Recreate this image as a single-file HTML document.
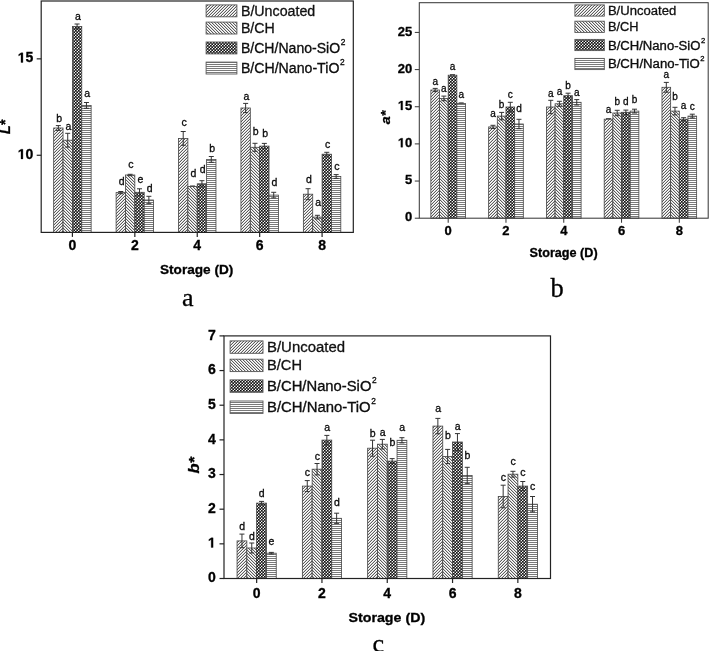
<!DOCTYPE html><html><head><meta charset="utf-8"><style>html,body{margin:0;padding:0;background:#fff;}svg{display:block;will-change:transform;}text{font-family:"Liberation Sans",sans-serif;stroke:currentColor;stroke-width:0.3px;}</style></head><body>
<svg width="709" height="651" viewBox="0 0 709 651">
<defs>
<pattern id="pf" patternUnits="userSpaceOnUse" x="0" y="0" width="3" height="3"><rect width="3" height="3" fill="#fff"/><g shape-rendering="crispEdges"><rect x="2" y="0" width="1" height="1" fill="#5c5c5c"/><rect x="1" y="1" width="1" height="1" fill="#5c5c5c"/><rect x="0" y="2" width="1" height="1" fill="#5c5c5c"/><rect x="1" y="0" width="1" height="1" fill="#d2d2d2"/><rect x="0" y="1" width="1" height="1" fill="#d2d2d2"/><rect x="2" y="2" width="1" height="1" fill="#d2d2d2"/></g></pattern>
<pattern id="pb" patternUnits="userSpaceOnUse" x="0" y="0" width="3" height="3"><rect width="3" height="3" fill="#fff"/><g shape-rendering="crispEdges"><rect x="0" y="0" width="1" height="1" fill="#5c5c5c"/><rect x="1" y="1" width="1" height="1" fill="#5c5c5c"/><rect x="2" y="2" width="1" height="1" fill="#5c5c5c"/><rect x="1" y="0" width="1" height="1" fill="#d2d2d2"/><rect x="2" y="1" width="1" height="1" fill="#d2d2d2"/><rect x="0" y="2" width="1" height="1" fill="#d2d2d2"/></g></pattern>
<pattern id="px" patternUnits="userSpaceOnUse" x="0" y="0" width="3" height="3"><rect width="3" height="3" fill="#fff"/><g shape-rendering="crispEdges"><rect x="0" y="0" width="1" height="1" fill="#111111"/><rect x="1" y="0" width="1" height="1" fill="#5a5a5a"/><rect x="2" y="0" width="1" height="1" fill="#f0f0f0"/><rect x="0" y="1" width="1" height="1" fill="#5a5a5a"/><rect x="1" y="1" width="1" height="1" fill="#5a5a5a"/><rect x="2" y="1" width="1" height="1" fill="#5a5a5a"/><rect x="0" y="2" width="1" height="1" fill="#f0f0f0"/><rect x="1" y="2" width="1" height="1" fill="#5a5a5a"/><rect x="2" y="2" width="1" height="1" fill="#111111"/></g></pattern>
<pattern id="ph" patternUnits="userSpaceOnUse" x="0" y="0" width="4" height="2"><rect width="4" height="2" fill="#fff"/><rect x="0" y="0" width="4" height="1" fill="#7a7a7a" shape-rendering="crispEdges"/></pattern>
<filter id="soft" x="-2%" y="-2%" width="104%" height="104%"><feGaussianBlur stdDeviation="0.6"/></filter>
</defs>
<rect width="709" height="651" fill="#fff"/>
<g><rect x="53.68" y="128" width="9.36" height="104.4" fill="url(#pf)" stroke="#444" stroke-width="0.8"/><rect x="63.05" y="140.2" width="9.36" height="92.2" fill="url(#pb)" stroke="#444" stroke-width="0.8"/><rect x="72.41" y="26.5" width="9.36" height="205.9" fill="url(#px)" stroke="#444" stroke-width="0.8"/><rect x="81.77" y="105.4" width="9.36" height="127" fill="url(#ph)" stroke="#444" stroke-width="0.8"/><rect x="116.1" y="192.6" width="9.36" height="39.8" fill="url(#pf)" stroke="#444" stroke-width="0.8"/><rect x="125.47" y="175" width="9.36" height="57.4" fill="url(#pb)" stroke="#444" stroke-width="0.8"/><rect x="134.83" y="192.3" width="9.36" height="40.1" fill="url(#px)" stroke="#444" stroke-width="0.8"/><rect x="144.19" y="200" width="9.36" height="32.4" fill="url(#ph)" stroke="#444" stroke-width="0.8"/><rect x="178.52" y="138.4" width="9.36" height="94" fill="url(#pf)" stroke="#444" stroke-width="0.8"/><rect x="187.89" y="186.5" width="9.36" height="45.9" fill="url(#pb)" stroke="#444" stroke-width="0.8"/><rect x="197.25" y="183.8" width="9.36" height="48.6" fill="url(#px)" stroke="#444" stroke-width="0.8"/><rect x="206.61" y="159.4" width="9.36" height="73" fill="url(#ph)" stroke="#444" stroke-width="0.8"/><rect x="240.94" y="108" width="9.36" height="124.4" fill="url(#pf)" stroke="#444" stroke-width="0.8"/><rect x="250.31" y="147.3" width="9.36" height="85.1" fill="url(#pb)" stroke="#444" stroke-width="0.8"/><rect x="259.67" y="146.1" width="9.36" height="86.3" fill="url(#px)" stroke="#444" stroke-width="0.8"/><rect x="269.03" y="195.1" width="9.36" height="37.3" fill="url(#ph)" stroke="#444" stroke-width="0.8"/><rect x="303.36" y="194.2" width="9.36" height="38.2" fill="url(#pf)" stroke="#444" stroke-width="0.8"/><rect x="312.73" y="217.1" width="9.36" height="15.3" fill="url(#pb)" stroke="#444" stroke-width="0.8"/><rect x="322.09" y="154.2" width="9.36" height="78.2" fill="url(#px)" stroke="#444" stroke-width="0.8"/><rect x="331.45" y="176.5" width="9.36" height="55.9" fill="url(#ph)" stroke="#444" stroke-width="0.8"/></g>
<path d="M58.37 125.6V130.4M55.87 125.6H60.87M55.87 130.4H60.87M67.73 133.3V147.1M65.23 133.3H70.23M65.23 147.1H70.23M77.09 24V29M74.59 24H79.59M74.59 29H79.59M86.45 102.5V108.3M83.95 102.5H88.95M83.95 108.3H88.95M120.79 191.5V193.7M118.29 191.5H123.29M118.29 193.7H123.29M130.15 174.3V175.7M127.65 174.3H132.65M127.65 175.7H132.65M139.51 188.8V195.8M137.01 188.8H142.01M137.01 195.8H142.01M148.87 196.3V203.7M146.37 196.3H151.37M146.37 203.7H151.37M183.21 131.5V145.3M180.71 131.5H185.71M180.71 145.3H185.71M190.07 186H195.07M201.93 180.7V186.9M199.43 180.7H204.43M199.43 186.9H204.43M211.29 156.5V162.3M208.79 156.5H213.79M208.79 162.3H213.79M245.63 103.4V112.6M243.13 103.4H248.13M243.13 112.6H248.13M254.99 143.3V151.3M252.49 143.3H257.49M252.49 151.3H257.49M264.35 143.4V148.8M261.85 143.4H266.85M261.85 148.8H266.85M273.71 192.3V197.9M271.21 192.3H276.21M271.21 197.9H276.21M308.05 188.7V199.7M305.55 188.7H310.55M305.55 199.7H310.55M317.41 215.3V218.9M314.91 215.3H319.91M314.91 218.9H319.91M326.77 152.3V156.1M324.27 152.3H329.27M324.27 156.1H329.27M336.13 174.6V178.4M333.63 174.6H338.63M333.63 178.4H338.63" stroke="#333" stroke-width="1" fill="none"/>
<g font-size="10.5" text-anchor="middle" fill="#111"><text x="59.17" y="121.9">b</text><text x="68.53" y="129.7">a</text><text x="77.89" y="19.6">a</text><text x="87.25" y="96.9">a</text><text x="121.59" y="184.6">d</text><text x="130.95" y="168.4">c</text><text x="140.31" y="183">e</text><text x="149.67" y="192.3">d</text><text x="184.01" y="126.3">c</text><text x="193.37" y="176.5">d</text><text x="202.73" y="173.4">d</text><text x="212.09" y="151.5">b</text><text x="246.43" y="100">a</text><text x="255.79" y="135.4">b</text><text x="265.15" y="137.3">b</text><text x="274.51" y="185.7">d</text><text x="308.85" y="183.4">d</text><text x="318.21" y="205.7">a</text><text x="327.57" y="147.7">c</text><text x="336.93" y="169.6">c</text></g>
<rect x="41.2" y="1" width="312.1" height="231.4" fill="none" stroke="#222" stroke-width="1.2"/>
<path d="M36.7 155.27H41.2" stroke="#222" stroke-width="1.2"/>
<path transform="translate(17.73 158.91) scale(0.00684 -0.00684)" d="M478 0L759 0L759 1409L493 1409L140 1180L140 959L478 1170Z" fill="#000" stroke="#000" stroke-width="43.9"/>
<text x="33.3" y="158.91" font-size="14" font-weight="bold" text-anchor="end" fill="#000">0</text>
<path d="M36.7 58.85H41.2" stroke="#222" stroke-width="1.2"/>
<path transform="translate(17.73 62.49) scale(0.00684 -0.00684)" d="M478 0L759 0L759 1409L493 1409L140 1180L140 959L478 1170Z" fill="#000" stroke="#000" stroke-width="43.9"/>
<text x="33.3" y="62.49" font-size="14" font-weight="bold" text-anchor="end" fill="#000">5</text>
<path d="M72.41 232.4V236.9" stroke="#222" stroke-width="1.2"/>
<text x="72.41" y="250" font-size="14" font-weight="bold" text-anchor="middle" fill="#000">0</text>
<path d="M134.83 232.4V236.9" stroke="#222" stroke-width="1.2"/>
<text x="134.83" y="250" font-size="14" font-weight="bold" text-anchor="middle" fill="#000">2</text>
<path d="M197.25 232.4V236.9" stroke="#222" stroke-width="1.2"/>
<text x="197.25" y="250" font-size="14" font-weight="bold" text-anchor="middle" fill="#000">4</text>
<path d="M259.67 232.4V236.9" stroke="#222" stroke-width="1.2"/>
<text x="259.67" y="250" font-size="14" font-weight="bold" text-anchor="middle" fill="#000">6</text>
<path d="M322.09 232.4V236.9" stroke="#222" stroke-width="1.2"/>
<text x="322.09" y="250" font-size="14" font-weight="bold" text-anchor="middle" fill="#000">8</text>
<text x="160" y="273.6" font-size="13" font-weight="bold" textLength="73.3" lengthAdjust="spacingAndGlyphs" fill="#000">Storage (D)</text>
<text transform="translate(10 134) rotate(-90)"  font-size="14" font-weight="bold" font-style="italic" fill="#000">L*</text>
<rect x="206.1" y="4.9" width="30.8" height="11.9" fill="url(#pf)" stroke="#555" stroke-width="0.9"/>
<text x="240.9" y="15.8" font-size="14" textLength="74.4" lengthAdjust="spacingAndGlyphs" fill="#111" style="color:#111">B/Uncoated</text>
<rect x="206.1" y="22.1" width="30.8" height="11.9" fill="url(#pb)" stroke="#555" stroke-width="0.9"/>
<text x="240.9" y="32.8" font-size="14" textLength="33.9" lengthAdjust="spacingAndGlyphs" fill="#111" style="color:#111">B/CH</text>
<rect x="206.1" y="42" width="30.8" height="11.9" fill="url(#px)" stroke="#555" stroke-width="0.9"/>
<text x="240.9" y="53" font-size="14" fill="#111"><tspan textLength="99.3" lengthAdjust="spacingAndGlyphs">B/CH/Nano-SiO</tspan><tspan font-size="8.4" dy="-7.98" dx="0.6">2</tspan></text>
<rect x="206.1" y="62.1" width="30.8" height="11.9" fill="url(#ph)" stroke="#555" stroke-width="0.9"/>
<text x="240.9" y="72.9" font-size="14" fill="#111"><tspan textLength="98.5" lengthAdjust="spacingAndGlyphs">B/CH/Nano-TiO</tspan><tspan font-size="8.4" dy="-7.98" dx="0.6">2</tspan></text>
<g><rect x="430.86" y="90" width="8.67" height="128.2" fill="url(#pf)" stroke="#444" stroke-width="0.8"/><rect x="439.52" y="98.4" width="8.67" height="119.8" fill="url(#pb)" stroke="#444" stroke-width="0.8"/><rect x="448.19" y="75.2" width="8.67" height="143" fill="url(#px)" stroke="#444" stroke-width="0.8"/><rect x="456.86" y="103.4" width="8.67" height="114.8" fill="url(#ph)" stroke="#444" stroke-width="0.8"/><rect x="488.64" y="126.9" width="8.67" height="91.3" fill="url(#pf)" stroke="#444" stroke-width="0.8"/><rect x="497.3" y="116.1" width="8.67" height="102.1" fill="url(#pb)" stroke="#444" stroke-width="0.8"/><rect x="505.97" y="107" width="8.67" height="111.2" fill="url(#px)" stroke="#444" stroke-width="0.8"/><rect x="514.64" y="124" width="8.67" height="94.2" fill="url(#ph)" stroke="#444" stroke-width="0.8"/><rect x="546.42" y="107" width="8.67" height="111.2" fill="url(#pf)" stroke="#444" stroke-width="0.8"/><rect x="555.08" y="103.8" width="8.67" height="114.4" fill="url(#pb)" stroke="#444" stroke-width="0.8"/><rect x="563.75" y="95.7" width="8.67" height="122.5" fill="url(#px)" stroke="#444" stroke-width="0.8"/><rect x="572.42" y="102.3" width="8.67" height="115.9" fill="url(#ph)" stroke="#444" stroke-width="0.8"/><rect x="604.2" y="119.2" width="8.67" height="99" fill="url(#pf)" stroke="#444" stroke-width="0.8"/><rect x="612.86" y="113" width="8.67" height="105.2" fill="url(#pb)" stroke="#444" stroke-width="0.8"/><rect x="621.53" y="112.3" width="8.67" height="105.9" fill="url(#px)" stroke="#444" stroke-width="0.8"/><rect x="630.2" y="111.1" width="8.67" height="107.1" fill="url(#ph)" stroke="#444" stroke-width="0.8"/><rect x="661.98" y="87.3" width="8.67" height="130.9" fill="url(#pf)" stroke="#444" stroke-width="0.8"/><rect x="670.64" y="111.1" width="8.67" height="107.1" fill="url(#pb)" stroke="#444" stroke-width="0.8"/><rect x="679.31" y="119.2" width="8.67" height="99" fill="url(#px)" stroke="#444" stroke-width="0.8"/><rect x="687.98" y="116.1" width="8.67" height="102.1" fill="url(#ph)" stroke="#444" stroke-width="0.8"/></g>
<path d="M435.19 88.4V91.6M432.69 88.4H437.69M432.69 91.6H437.69M443.86 96.1V100.7M441.36 96.1H446.36M441.36 100.7H446.36M450.02 74.7H455.02M458.69 102.9H463.69M492.97 125.3V128.5M490.47 125.3H495.47M490.47 128.5H495.47M501.64 112.4V119.8M499.14 112.4H504.14M499.14 119.8H504.14M510.3 102.3V111.7M507.8 102.3H512.8M507.8 111.7H512.8M518.97 119.3V128.7M516.47 119.3H521.47M516.47 128.7H521.47M550.75 100.3V113.7M548.25 100.3H553.25M548.25 113.7H553.25M559.42 101.3V106.3M556.92 101.3H561.92M556.92 106.3H561.92M568.08 93.2V98.2M565.58 93.2H570.58M565.58 98.2H570.58M576.75 99.6V105M574.25 99.6H579.25M574.25 105H579.25M606.03 118.7H611.03M617.2 110.3V115.7M614.7 110.3H619.7M614.7 115.7H619.7M625.86 110.1V114.5M623.36 110.1H628.36M623.36 114.5H628.36M634.53 109.2V113M632.03 109.2H637.03M632.03 113H637.03M666.31 82.4V92.2M663.81 82.4H668.81M663.81 92.2H668.81M674.98 107.3V114.9M672.48 107.3H677.48M672.48 114.9H677.48M683.64 117.7V120.7M681.14 117.7H686.14M681.14 120.7H686.14M692.31 114.2V118M689.81 114.2H694.81M689.81 118H694.81" stroke="#333" stroke-width="1" fill="none"/>
<g font-size="10" text-anchor="middle" fill="#111"><text x="435.19" y="84.6">a</text><text x="443.86" y="91.5">a</text><text x="452.52" y="69.6">a</text><text x="461.19" y="97.6">a</text><text x="492.97" y="117.3">a</text><text x="501.64" y="107.5">b</text><text x="510.3" y="97.7">c</text><text x="518.97" y="111.9">d</text><text x="550.75" y="96.5">a</text><text x="559.42" y="95.3">a</text><text x="568.08" y="89.2">b</text><text x="576.75" y="95.7">a</text><text x="608.53" y="112.6">a</text><text x="617.2" y="105.3">b</text><text x="625.86" y="105.2">d</text><text x="634.53" y="102.7">b</text><text x="666.31" y="78">a</text><text x="674.98" y="99.6">b</text><text x="683.64" y="109.2">a</text><text x="692.31" y="109.6">c</text></g>
<rect x="419.3" y="2.7" width="288.9" height="215.5" fill="none" stroke="#3c3c3c" stroke-width="1.05"/>
<path d="M414.8 218.2H419.3" stroke="#3c3c3c" stroke-width="1.05"/>
<text x="412.3" y="221.48" font-size="13" font-weight="bold" text-anchor="end" fill="#000">0</text>
<path d="M414.8 181.04H419.3" stroke="#3c3c3c" stroke-width="1.05"/>
<text x="412.3" y="184.32" font-size="13" font-weight="bold" text-anchor="end" fill="#000">5</text>
<path d="M414.8 143.89H419.3" stroke="#3c3c3c" stroke-width="1.05"/>
<path transform="translate(397.84 147.17) scale(0.00635 -0.00635)" d="M478 0L759 0L759 1409L493 1409L140 1180L140 959L478 1170Z" fill="#000" stroke="#000" stroke-width="47.3"/>
<text x="412.3" y="147.17" font-size="13" font-weight="bold" text-anchor="end" fill="#000">0</text>
<path d="M414.8 106.73H419.3" stroke="#3c3c3c" stroke-width="1.05"/>
<path transform="translate(397.84 110.01) scale(0.00635 -0.00635)" d="M478 0L759 0L759 1409L493 1409L140 1180L140 959L478 1170Z" fill="#000" stroke="#000" stroke-width="47.3"/>
<text x="412.3" y="110.01" font-size="13" font-weight="bold" text-anchor="end" fill="#000">5</text>
<path d="M414.8 69.58H419.3" stroke="#3c3c3c" stroke-width="1.05"/>
<text x="412.3" y="72.86" font-size="13" font-weight="bold" text-anchor="end" fill="#000">20</text>
<path d="M414.8 32.42H419.3" stroke="#3c3c3c" stroke-width="1.05"/>
<text x="412.3" y="35.7" font-size="13" font-weight="bold" text-anchor="end" fill="#000">25</text>
<path d="M448.19 218.2V222.7" stroke="#3c3c3c" stroke-width="1.05"/>
<text x="448.19" y="234.5" font-size="13" font-weight="bold" text-anchor="middle" fill="#000">0</text>
<path d="M505.97 218.2V222.7" stroke="#3c3c3c" stroke-width="1.05"/>
<text x="505.97" y="234.5" font-size="13" font-weight="bold" text-anchor="middle" fill="#000">2</text>
<path d="M563.75 218.2V222.7" stroke="#3c3c3c" stroke-width="1.05"/>
<text x="563.75" y="234.5" font-size="13" font-weight="bold" text-anchor="middle" fill="#000">4</text>
<path d="M621.53 218.2V222.7" stroke="#3c3c3c" stroke-width="1.05"/>
<text x="621.53" y="234.5" font-size="13" font-weight="bold" text-anchor="middle" fill="#000">6</text>
<path d="M679.31 218.2V222.7" stroke="#3c3c3c" stroke-width="1.05"/>
<text x="679.31" y="234.5" font-size="13" font-weight="bold" text-anchor="middle" fill="#000">8</text>
<text x="529.6" y="256.6" font-size="12" font-weight="bold" textLength="68" lengthAdjust="spacingAndGlyphs" fill="#000">Storage (D)</text>
<text transform="translate(390.2 124.2) rotate(-90)" textLength="13.5" lengthAdjust="spacingAndGlyphs" font-size="13" font-weight="bold" font-style="italic" fill="#000">a*</text>
<rect x="574.9" y="4.9" width="29.4" height="11.2" fill="url(#pf)" stroke="#555" stroke-width="0.9"/>
<text x="607.9" y="14.9" font-size="12" textLength="68.3" lengthAdjust="spacingAndGlyphs" fill="#111" style="color:#111">B/Uncoated</text>
<rect x="574.9" y="21.2" width="29.4" height="11.2" fill="url(#pb)" stroke="#555" stroke-width="0.9"/>
<text x="607.9" y="31" font-size="12" textLength="30.6" lengthAdjust="spacingAndGlyphs" fill="#111" style="color:#111">B/CH</text>
<rect x="574.9" y="39.4" width="29.4" height="11.2" fill="url(#px)" stroke="#555" stroke-width="0.9"/>
<text x="607.9" y="49.6" font-size="12" fill="#111"><tspan textLength="92.5" lengthAdjust="spacingAndGlyphs">B/CH/Nano-SiO</tspan><tspan font-size="7.68" dy="-6.96" dx="0.6">2</tspan></text>
<rect x="574.9" y="58.4" width="29.4" height="11.2" fill="url(#ph)" stroke="#555" stroke-width="0.9"/>
<text x="607.9" y="68.2" font-size="12" fill="#111"><tspan textLength="91.8" lengthAdjust="spacingAndGlyphs">B/CH/Nano-TiO</tspan><tspan font-size="7.68" dy="-6.96" dx="0.6">2</tspan></text>
<g><rect x="237.06" y="540.9" width="9.79" height="37.6" fill="url(#pf)" stroke="#444" stroke-width="0.8"/><rect x="246.85" y="548" width="9.79" height="30.5" fill="url(#pb)" stroke="#444" stroke-width="0.8"/><rect x="256.65" y="503.1" width="9.79" height="75.4" fill="url(#px)" stroke="#444" stroke-width="0.8"/><rect x="266.44" y="553.2" width="9.79" height="25.3" fill="url(#ph)" stroke="#444" stroke-width="0.8"/><rect x="302.36" y="486.1" width="9.79" height="92.4" fill="url(#pf)" stroke="#444" stroke-width="0.8"/><rect x="312.15" y="469.2" width="9.79" height="109.3" fill="url(#pb)" stroke="#444" stroke-width="0.8"/><rect x="321.95" y="440.1" width="9.79" height="138.4" fill="url(#px)" stroke="#444" stroke-width="0.8"/><rect x="331.75" y="518.3" width="9.79" height="60.2" fill="url(#ph)" stroke="#444" stroke-width="0.8"/><rect x="367.66" y="448.2" width="9.79" height="130.3" fill="url(#pf)" stroke="#444" stroke-width="0.8"/><rect x="377.45" y="444.2" width="9.79" height="134.3" fill="url(#pb)" stroke="#444" stroke-width="0.8"/><rect x="387.25" y="461.1" width="9.79" height="117.4" fill="url(#px)" stroke="#444" stroke-width="0.8"/><rect x="397.05" y="440.3" width="9.79" height="138.2" fill="url(#ph)" stroke="#444" stroke-width="0.8"/><rect x="432.96" y="426.1" width="9.79" height="152.4" fill="url(#pf)" stroke="#444" stroke-width="0.8"/><rect x="442.75" y="456.5" width="9.79" height="122" fill="url(#pb)" stroke="#444" stroke-width="0.8"/><rect x="452.55" y="442" width="9.79" height="136.5" fill="url(#px)" stroke="#444" stroke-width="0.8"/><rect x="462.34" y="475.5" width="9.79" height="103" fill="url(#ph)" stroke="#444" stroke-width="0.8"/><rect x="498.26" y="496.5" width="9.79" height="82" fill="url(#pf)" stroke="#444" stroke-width="0.8"/><rect x="508.05" y="474.2" width="9.79" height="104.3" fill="url(#pb)" stroke="#444" stroke-width="0.8"/><rect x="517.85" y="486.1" width="9.79" height="92.4" fill="url(#px)" stroke="#444" stroke-width="0.8"/><rect x="527.64" y="504.2" width="9.79" height="74.3" fill="url(#ph)" stroke="#444" stroke-width="0.8"/></g>
<path d="M241.96 534.1V547.7M239.46 534.1H244.46M239.46 547.7H244.46M251.75 543V553M249.25 543H254.25M249.25 553H254.25M261.55 501.4V504.8M259.05 501.4H264.05M259.05 504.8H264.05M271.34 552.4V554M268.84 552.4H273.84M268.84 554H273.84M307.26 480.6V491.6M304.76 480.6H309.76M304.76 491.6H309.76M317.05 463.5V474.9M314.55 463.5H319.55M314.55 474.9H319.55M326.85 435.4V444.8M324.35 435.4H329.35M324.35 444.8H329.35M336.64 513.2V523.4M334.14 513.2H339.14M334.14 523.4H339.14M372.56 440.2V456.2M370.06 440.2H375.06M370.06 456.2H375.06M382.35 439.4V449M379.85 439.4H384.85M379.85 449H384.85M392.15 458.6V463.6M389.65 458.6H394.65M389.65 463.6H394.65M401.94 437.7V442.9M399.44 437.7H404.44M399.44 442.9H404.44M437.86 418.4V433.8M435.36 418.4H440.36M435.36 433.8H440.36M447.65 449.4V463.6M445.15 449.4H450.15M445.15 463.6H450.15M457.45 433.6V450.4M454.95 433.6H459.95M454.95 450.4H459.95M467.24 467.3V483.7M464.74 467.3H469.74M464.74 483.7H469.74M503.16 485.2V507.8M500.66 485.2H505.66M500.66 507.8H505.66M512.95 471.3V477.1M510.45 471.3H515.45M510.45 477.1H515.45M522.75 481.5V490.7M520.25 481.5H525.25M520.25 490.7H525.25M532.54 496.5V511.9M530.04 496.5H535.04M530.04 511.9H535.04" stroke="#333" stroke-width="1" fill="none"/>
<g font-size="10.5" text-anchor="middle" fill="#111"><text x="242.16" y="529.6">d</text><text x="251.95" y="540.4">d</text><text x="261.75" y="496.5">d</text><text x="271.54" y="545.3">e</text><text x="307.46" y="475.7">c</text><text x="317.25" y="459.6">c</text><text x="327.05" y="430.8">a</text><text x="336.84" y="505.7">d</text><text x="372.76" y="436.5">b</text><text x="382.55" y="435.7">a</text><text x="392.35" y="445.7">b</text><text x="402.14" y="430.7">a</text><text x="438.06" y="411.8">a</text><text x="447.85" y="439.2">b</text><text x="457.65" y="429.6">a</text><text x="467.44" y="459.2">b</text><text x="503.36" y="480.7">c</text><text x="513.15" y="464.6">c</text><text x="522.95" y="475.5">c</text><text x="532.74" y="489.6">c</text></g>
<rect x="224" y="335.9" width="326.5" height="242.6" fill="none" stroke="#222" stroke-width="1.2"/>
<path d="M219.5 578.5H224" stroke="#222" stroke-width="1.2"/>
<text x="215.7" y="582.14" font-size="14" font-weight="bold" text-anchor="end" fill="#000">0</text>
<path d="M219.5 543.84H224" stroke="#222" stroke-width="1.2"/>
<path transform="translate(207.91 547.48) scale(0.00684 -0.00684)" d="M478 0L759 0L759 1409L493 1409L140 1180L140 959L478 1170Z" fill="#000" stroke="#000" stroke-width="43.9"/>
<path d="M219.5 509.19H224" stroke="#222" stroke-width="1.2"/>
<text x="215.7" y="512.83" font-size="14" font-weight="bold" text-anchor="end" fill="#000">2</text>
<path d="M219.5 474.53H224" stroke="#222" stroke-width="1.2"/>
<text x="215.7" y="478.17" font-size="14" font-weight="bold" text-anchor="end" fill="#000">3</text>
<path d="M219.5 439.87H224" stroke="#222" stroke-width="1.2"/>
<text x="215.7" y="443.51" font-size="14" font-weight="bold" text-anchor="end" fill="#000">4</text>
<path d="M219.5 405.21H224" stroke="#222" stroke-width="1.2"/>
<text x="215.7" y="408.85" font-size="14" font-weight="bold" text-anchor="end" fill="#000">5</text>
<path d="M219.5 370.56H224" stroke="#222" stroke-width="1.2"/>
<text x="215.7" y="374.2" font-size="14" font-weight="bold" text-anchor="end" fill="#000">6</text>
<path d="M219.5 335.9H224" stroke="#222" stroke-width="1.2"/>
<text x="215.7" y="339.54" font-size="14" font-weight="bold" text-anchor="end" fill="#000">7</text>
<path d="M256.65 578.5V583" stroke="#222" stroke-width="1.2"/>
<text x="256.65" y="597.5" font-size="14" font-weight="bold" text-anchor="middle" fill="#000">0</text>
<path d="M321.95 578.5V583" stroke="#222" stroke-width="1.2"/>
<text x="321.95" y="597.5" font-size="14" font-weight="bold" text-anchor="middle" fill="#000">2</text>
<path d="M387.25 578.5V583" stroke="#222" stroke-width="1.2"/>
<text x="387.25" y="597.5" font-size="14" font-weight="bold" text-anchor="middle" fill="#000">4</text>
<path d="M452.55 578.5V583" stroke="#222" stroke-width="1.2"/>
<text x="452.55" y="597.5" font-size="14" font-weight="bold" text-anchor="middle" fill="#000">6</text>
<path d="M517.85 578.5V583" stroke="#222" stroke-width="1.2"/>
<text x="517.85" y="597.5" font-size="14" font-weight="bold" text-anchor="middle" fill="#000">8</text>
<text x="348.5" y="622.1" font-size="13.3" font-weight="bold" textLength="76.7" lengthAdjust="spacingAndGlyphs" fill="#000">Storage (D)</text>
<text transform="translate(199 473.6) rotate(-90)" textLength="16.6" lengthAdjust="spacingAndGlyphs" font-size="14.5" font-weight="bold" font-style="italic" fill="#000">b*</text>
<rect x="230.1" y="340.9" width="32.9" height="12.4" fill="url(#pf)" stroke="#555" stroke-width="0.9"/>
<text x="267" y="351.7" font-size="14" textLength="78" lengthAdjust="spacingAndGlyphs" fill="#111" style="color:#111">B/Uncoated</text>
<rect x="230.1" y="359.2" width="32.9" height="12.4" fill="url(#pb)" stroke="#555" stroke-width="0.9"/>
<text x="267" y="369.5" font-size="14" textLength="35" lengthAdjust="spacingAndGlyphs" fill="#111" style="color:#111">B/CH</text>
<rect x="230.1" y="379.9" width="32.9" height="12.4" fill="url(#px)" stroke="#555" stroke-width="0.9"/>
<text x="267" y="390.9" font-size="14" fill="#111"><tspan textLength="104.4" lengthAdjust="spacingAndGlyphs">B/CH/Nano-SiO</tspan><tspan font-size="8.4" dy="-7.98" dx="0.6">2</tspan></text>
<rect x="230.1" y="401" width="32.9" height="12.4" fill="url(#ph)" stroke="#555" stroke-width="0.9"/>
<text x="267" y="411.6" font-size="14" fill="#111"><tspan textLength="103.6" lengthAdjust="spacingAndGlyphs">B/CH/Nano-TiO</tspan><tspan font-size="8.4" dy="-7.98" dx="0.6">2</tspan></text>
<text x="182" y="305.8" font-family="Liberation Serif" style="font-family:'Liberation Serif',serif" font-size="26" fill="#000">a</text>
<text x="550.5" y="297.2" style="font-family:'Liberation Serif',serif" font-size="26.5" fill="#000">b</text>
<text x="372.5" y="651.5" style="font-family:'Liberation Serif',serif" font-size="26" fill="#000">c</text>
</svg></body></html>
